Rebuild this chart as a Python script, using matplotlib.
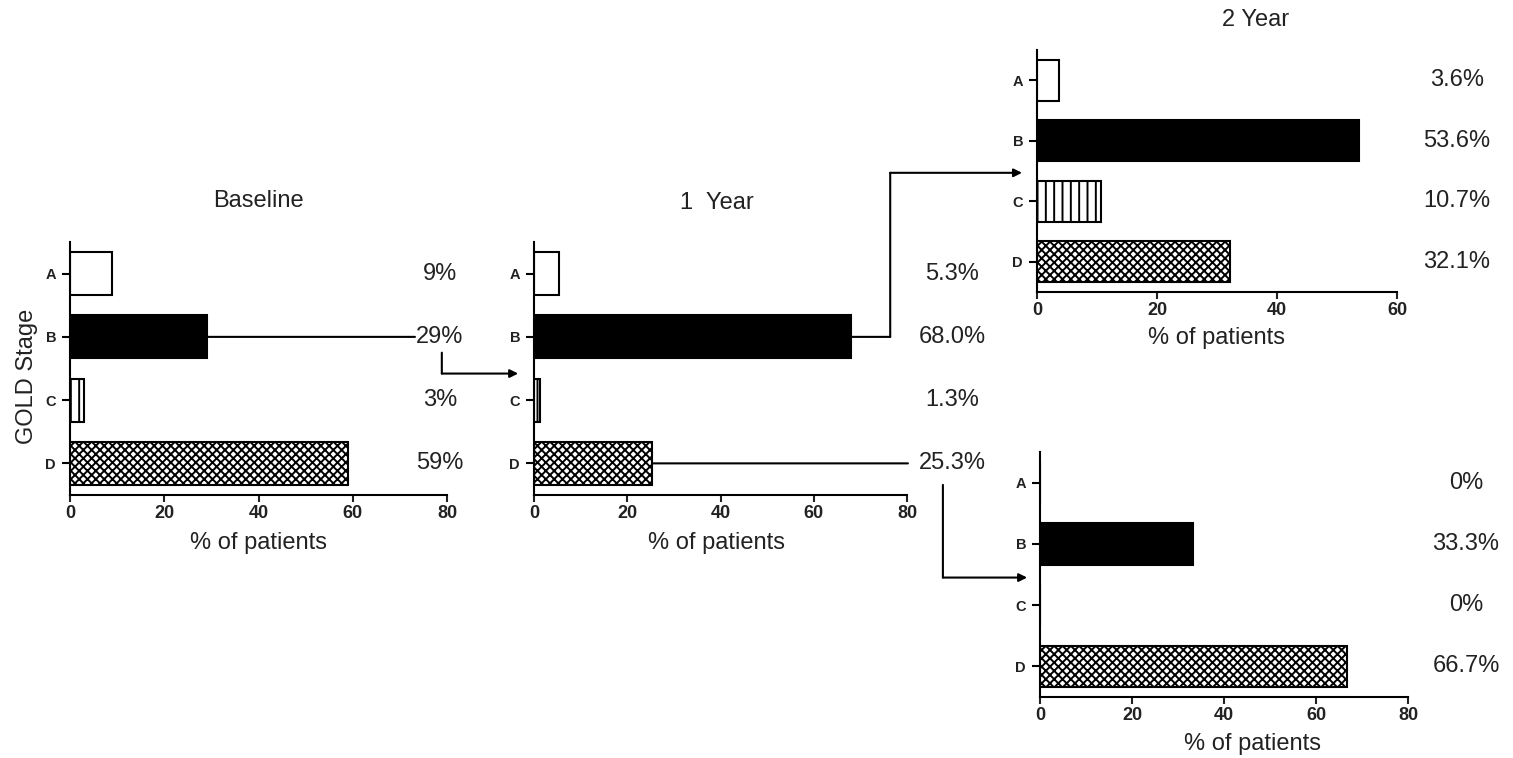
import matplotlib.pyplot as plt
from matplotlib.patches import ConnectionPatch
from matplotlib.transforms import blended_transform_factory

plt.rcParams['font.family'] = ['Liberation Sans', 'DejaVu Sans']
plt.rcParams['hatch.linewidth'] = 1.4

# GOLD stage distribution (% of patients)
stages = ["A", "B", "C", "D"]
baseline = [9, 29, 3, 59]
year1 = [5.3, 68.0, 1.3, 25.3]
year2_from_b = [3.6, 53.6, 10.7, 32.1]
year2_from_d = [0, 33.3, 0, 66.7]

baseline_labels = ["9%", "29%", "3%", "59%"]
year1_labels = ["5.3%", "68.0%", "1.3%", "25.3%"]
year2_from_b_labels = ["3.6%", "53.6%", "10.7%", "32.1%"]
year2_from_d_labels = ["0%", "33.3%", "0%", "66.7%"]

fills = ["white", "black", "white", "white"]
hatches = [None, None, "||", "xxxx"]

TXT = "#222222"
FS = 17
W, H = 1513, 758
fig = plt.figure(figsize=(W / 100, H / 100), dpi=100)


def panel(left, right, top, bottom, values, labels, xmax, label_x,
          title=None, title_xy=(0.5, 1.16), xlabel_x=0.5):
    ax = fig.add_axes([left / W, 1 - bottom / H, (right - left) / W, (bottom - top) / H])
    bars = ax.barh(range(len(stages)), values, height=0.68, color=fills,
                   edgecolor="black", linewidth=1.5)
    for bar, h in zip(bars, hatches):
        if h:
            bar.set_hatch(h)
    ax.set_ylim(3.5, -0.5)
    ax.set_xlim(0, xmax)
    ax.set_yticks(range(len(stages)))
    ax.set_yticklabels(stages, fontsize=10.5, fontweight="bold", color=TXT)
    ax.set_xticks(range(0, xmax + 1, 20))
    ax.tick_params(axis="x", labelsize=13, length=5, width=1.5, pad=2, colors=TXT)
    ax.tick_params(axis="y", length=6, width=1.5, pad=4)
    for lab in ax.get_xticklabels():
        lab.set_fontweight("bold")
    for side in ("top", "right"):
        ax.spines[side].set_visible(False)
    for side in ("left", "bottom"):
        ax.spines[side].set_linewidth(1.5)
    ax.set_xlabel("% of patients", fontsize=FS, color=TXT, va="center")
    ax.xaxis.set_label_coords(xlabel_x, -0.19)
    if title:
        ax.text(title_xy[0], title_xy[1], title, transform=ax.transAxes,
                ha="center", va="center", fontsize=FS, color=TXT)
    for i, lab in enumerate(labels):
        ax.text(label_x, i, lab, ha="center", va="center", fontsize=FS,
                color=TXT, clip_on=False)
    return ax


ax0 = panel(70, 447, 242, 495, baseline, baseline_labels, 80, 78.5,
            title="Baseline", title_xy=(0.5, 1.162))
ax0.set_ylabel("GOLD Stage", fontsize=FS, color=TXT, va="center")
ax0.yaxis.set_label_coords(-0.113, 0.47)

ax1 = panel(534, 907, 242, 495, year1, year1_labels, 80, 89.7,
            title="1  Year", title_xy=(0.49, 1.154), xlabel_x=0.49)
ax2 = panel(1037, 1397, 50, 292, year2_from_b, year2_from_b_labels, 60, 70,
            title="2 Year", title_xy=(0.606, 1.124))
ax3 = panel(1040, 1408, 452, 697, year2_from_d, year2_from_d_labels, 80, 92.6,
            xlabel_x=0.578)


def link(pa, ta, pb, tb, arrow=False):
    con = ConnectionPatch(xyA=pa, coordsA=ta, xyB=pb, coordsB=tb,
                          arrowstyle="-|>" if arrow else "-", color="black",
                          lw=1.5, mutation_scale=12, shrinkA=0, shrinkB=0)
    fig.add_artist(con)


# baseline stage B -> 1 year
link((baseline[1], 1), ax0.transData, (73.2, 1), ax0.transData)
link((78.9, 1.25), ax0.transData, (78.9, 1.58), ax0.transData)
link((78.9, 1.58), ax0.transData, (-3.4, 1.58), ax1.transData, arrow=True)

# 1 year stage B -> 2 year (upper)
up = blended_transform_factory(ax1.transData, ax2.transData)
link((year1[1], 1), ax1.transData, (76.4, 1), ax1.transData)
link((76.4, 1), ax1.transData, (76.4, 1.53), up)
link((76.4, 1.53), up, (-2.5, 1.53), ax2.transData, arrow=True)

# 1 year stage D -> 2 year (lower)
down = blended_transform_factory(ax1.transData, ax3.transData)
link((year1[3], 3), ax1.transData, (80.2, 3), ax1.transData)
link((87.7, 3.34), ax1.transData, (87.7, 1.55), down)
link((87.7, 1.55), down, (-2.8, 1.55), ax3.transData, arrow=True)

fig.savefig("out.png", dpi=100, facecolor="white")
